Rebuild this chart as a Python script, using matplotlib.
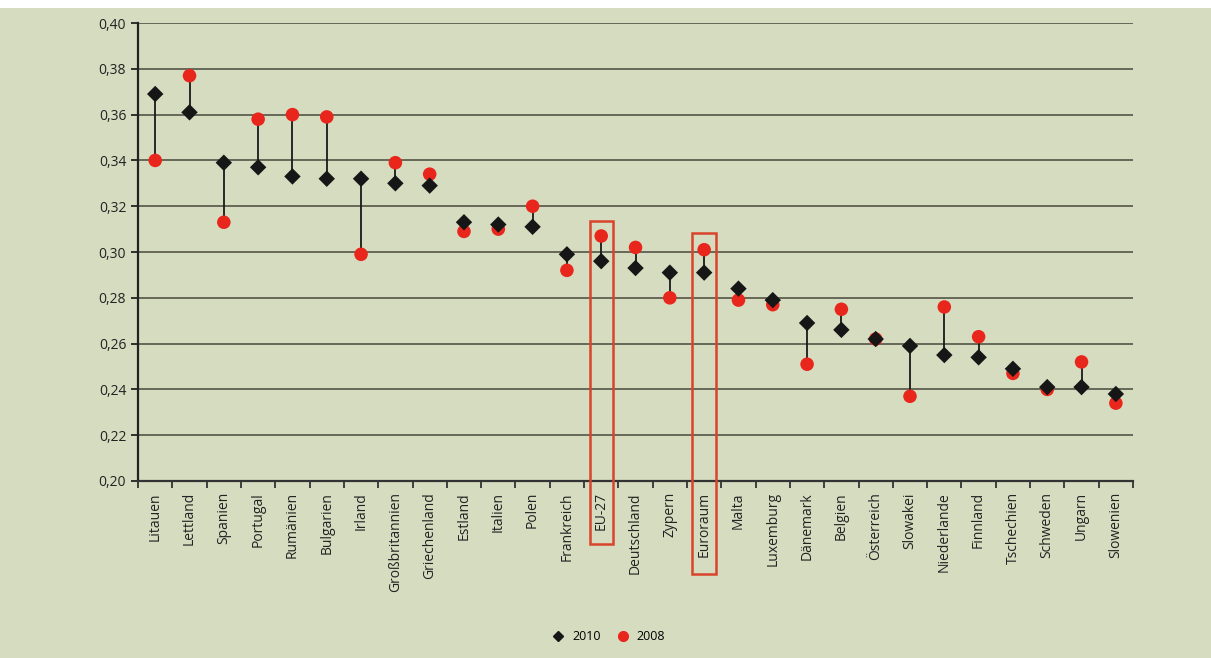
import matplotlib
matplotlib.use("Agg")
import matplotlib.pyplot as plt
from matplotlib.patches import Rectangle
from matplotlib.lines import Line2D
from matplotlib.ticker import FuncFormatter, FixedLocator

categories = ["Litauen", "Lettland", "Spanien", "Portugal", "Rumänien", "Bulgarien",
              "Irland", "Großbritannien", "Griechenland", "Estland", "Italien", "Polen",
              "Frankreich", "EU-27", "Deutschland", "Zypern", "Euroraum", "Malta",
              "Luxemburg", "Dänemark", "Belgien", "Österreich", "Slowakei", "Niederlande",
              "Finnland", "Tschechien", "Schweden", "Ungarn", "Slowenien"]
values_2010 = [0.369, 0.361, 0.339, 0.337, 0.333, 0.332, 0.332, 0.330, 0.329, 0.313,
               0.312, 0.311, 0.299, 0.296, 0.293, 0.291, 0.291, 0.284, 0.279, 0.269,
               0.266, 0.262, 0.259, 0.255, 0.254, 0.249, 0.241, 0.241, 0.238]
values_2008 = [0.340, 0.377, 0.313, 0.358, 0.360, 0.359, 0.299, 0.339, 0.334, 0.309,
               0.310, 0.320, 0.292, 0.307, 0.302, 0.280, 0.301, 0.279, 0.277, 0.251,
               0.275, 0.262, 0.237, 0.276, 0.263, 0.247, 0.240, 0.252, 0.234]
highlighted = ["EU-27", "Euroraum"]

bg = "#d6dcc0"
grid_c = "#4a4a3c"
red = "#e8261c"

plt.rcParams['font.family'] = ['Open Sans', 'DejaVu Sans']

fig = plt.figure(figsize=(12.11, 6.58), dpi=100, facecolor=bg)
fig.patches.append(Rectangle((0, 0.988), 1, 0.012, transform=fig.transFigure,
                             facecolor="white", edgecolor="none", zorder=-1))
ax = fig.add_axes([0.114, 0.269, 0.8216, 0.696])
ax.set_facecolor(bg)

x = list(range(len(categories)))
for xi, a, b in zip(x, values_2010, values_2008):
    ax.plot([xi, xi], [a, b], color="#1a1a1a", lw=1.3, zorder=3)
ax.scatter(x, values_2008, marker="o", s=95, color=red, edgecolors="none", zorder=4)
ax.scatter(x, values_2010, marker="D", s=70, color="#161616", edgecolors="none", zorder=5)

ax.set_xlim(-0.5, len(categories) - 0.5)
ax.set_ylim(0.20, 0.40)
ax.set_yticks([0.20 + 0.02 * i for i in range(11)])
ax.yaxis.set_major_formatter(FuncFormatter(lambda v, p: f"{v:.2f}".replace(".", ",")))
ax.grid(axis="y", color=grid_c, lw=1.4, alpha=0.8)
ax.set_axisbelow(True)

ax.set_xticks(x)
ax.set_xticklabels(categories, rotation=90, fontsize=10, color="#222222")
ax.tick_params(axis="x", length=0, pad=8)
ax.xaxis.set_minor_locator(FixedLocator([i - 0.5 for i in range(len(categories) + 1)]))
ax.tick_params(axis="x", which="minor", length=5, width=1.3, color="#333333", direction="out")
ax.tick_params(axis="y", length=5, width=1.3, color="#222222", labelsize=10, labelcolor="#222222")

for s in ["top", "right"]:
    ax.spines[s].set_visible(False)
ax.spines["left"].set_color("#222222")
ax.spines["left"].set_linewidth(1.6)
ax.spines["bottom"].set_color("#333333")
ax.spines["bottom"].set_linewidth(1.6)

# highlight boxes
box_bounds = {"EU-27": (0.3135, 0.1725), "Euroraum": (0.3085, 0.1595)}
for name in highlighted:
    i = categories.index(name)
    top, bot = box_bounds[name]
    ax.add_patch(Rectangle((i - 0.34, bot), 0.68, top - bot, fill=False,
                           edgecolor="#d9442c", lw=1.8, clip_on=False, zorder=6))

handles = [Line2D([], [], marker="D", color="#161616", ls="none", markersize=5),
           Line2D([], [], marker="o", color=red, ls="none", markersize=7)]
fig.legend(handles, ["2010", "2008"], loc="center", bbox_to_anchor=(0.5, 0.032),
           ncol=2, frameon=False, fontsize=9, handletextpad=0.1, columnspacing=0.8)

fig.savefig("out.png", dpi=100, facecolor=bg)
